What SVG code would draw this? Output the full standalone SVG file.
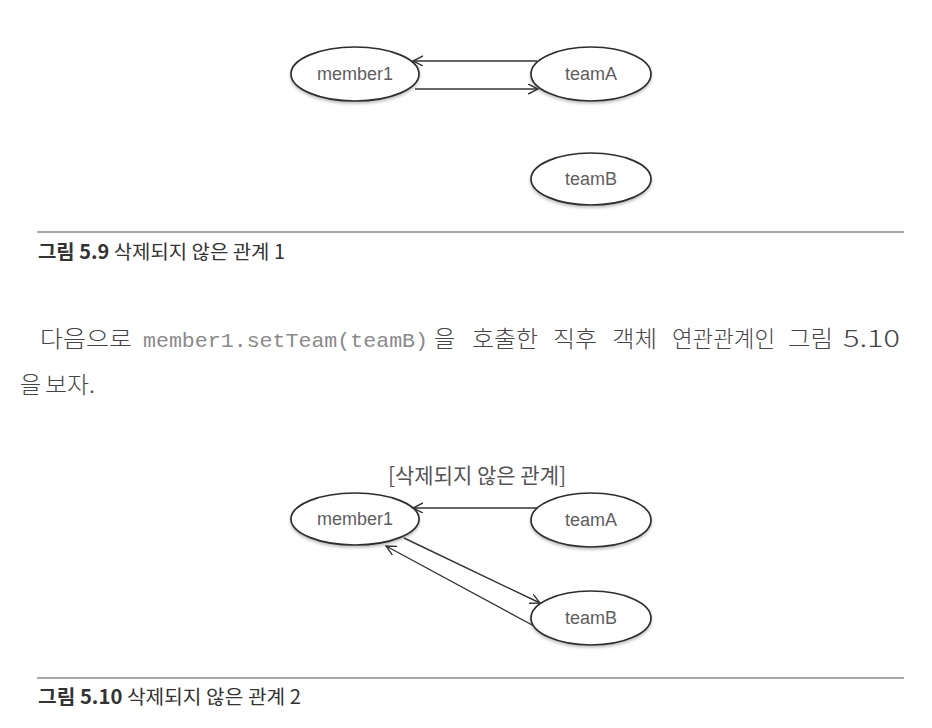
<svg xmlns="http://www.w3.org/2000/svg" width="932" height="728" viewBox="0 0 932 728">
  <style>
    .node { fill: #ffffff; stroke: #2e2e2e; stroke-width: 1.7; }
    .lbl { font-family: "Liberation Sans", Arial, sans-serif; font-size: 18px; fill: #5e5e5e; text-anchor: middle; }
    .conn { stroke: #333333; stroke-width: 1.4; fill: none; }
    .rule { stroke: #8a8a8a; stroke-width: 1.6; }
    .cap { font-family: "Noto Sans CJK KR", sans-serif; font-size: 19.5px; fill: #333333; }
    .capb { font-weight: bold; }
    .para { font-family: "Noto Sans CJK KR", sans-serif; font-size: 23px; font-weight: 300; fill: #444444; }
    .mono { font-family: "Liberation Mono", "Courier New", monospace; font-size: 21px; fill: #8a8a8a; }
    .title { font-family: "Noto Sans CJK KR", sans-serif; font-size: 21px; fill: #555555; text-anchor: middle; }
  </style>
  <defs>
    <marker id="arr" markerUnits="userSpaceOnUse" markerWidth="12" markerHeight="12" refX="10" refY="5" orient="auto">
      <path d="M0,0 L10,5 L0,10" fill="none" stroke="#333333" stroke-width="1.4"/>
    </marker>
    <filter id="sh" x="-20%" y="-20%" width="140%" height="150%">
      <feDropShadow dx="0" dy="2" stdDeviation="1.5" flood-color="#000000" flood-opacity="0.25"/>
    </filter>
  </defs>

  <!-- Figure 5.9 -->
  <g id="fig1-member1">
    <ellipse class="node" cx="355" cy="74" rx="64" ry="27" filter="url(#sh)"/>
    <text class="lbl" x="355" y="80">member1</text>
  </g>
  <g id="fig1-teamA">
    <ellipse class="node" cx="591" cy="74" rx="60" ry="27" filter="url(#sh)"/>
    <text class="lbl" x="591" y="80">teamA</text>
  </g>
  <g id="fig1-teamB">
    <ellipse class="node" cx="591" cy="179" rx="60" ry="26" filter="url(#sh)"/>
    <text class="lbl" x="591" y="185">teamB</text>
  </g>
  <g id="fig1-connectors">
    <path class="conn" d="M537,61 L413,61" marker-end="url(#arr)"/>
    <path class="conn" d="M415,89 L538,89" marker-end="url(#arr)"/>
  </g>

  <line class="rule" x1="37" y1="232" x2="904" y2="232"/>
  <text class="cap" x="38" y="259" textLength="247" lengthAdjust="spacingAndGlyphs"><tspan class="capb">그림 5.9</tspan> 삭제되지 않은 관계 1</text>

  <!-- Paragraph -->
  <text class="para" x="40" y="347" textLength="92" lengthAdjust="spacingAndGlyphs">다음으로</text>
  <text class="mono" x="143" y="347" textLength="285" lengthAdjust="spacingAndGlyphs">member1.setTeam(teamB)</text>
  <text class="para" x="434" y="347">을</text>
  <text class="para" x="472" y="347" textLength="66" lengthAdjust="spacingAndGlyphs">호출한</text>
  <text class="para" x="553" y="347" textLength="44" lengthAdjust="spacingAndGlyphs">직후</text>
  <text class="para" x="612" y="347" textLength="45" lengthAdjust="spacingAndGlyphs">객체</text>
  <text class="para" x="672" y="347" textLength="103" lengthAdjust="spacingAndGlyphs">연관관계인</text>
  <text class="para" x="788" y="347" textLength="45" lengthAdjust="spacingAndGlyphs">그림</text>
  <text class="para" x="843" y="347" textLength="57" lengthAdjust="spacingAndGlyphs">5.10</text>
  <text class="para" x="20" y="393">을</text>
  <text class="para" x="45" y="393" textLength="50" lengthAdjust="spacingAndGlyphs">보자.</text>

  <!-- Figure 5.10 -->
  <text class="title" x="477" y="483">[삭제되지 않은 관계]</text>
  <g id="fig2-member1">
    <ellipse class="node" cx="355" cy="519" rx="64" ry="26" filter="url(#sh)"/>
    <text class="lbl" x="355" y="525">member1</text>
  </g>
  <g id="fig2-teamA">
    <ellipse class="node" cx="591" cy="520" rx="60" ry="27" filter="url(#sh)"/>
    <text class="lbl" x="591" y="526">teamA</text>
  </g>
  <g id="fig2-teamB">
    <ellipse class="node" cx="591" cy="618" rx="60" ry="27" filter="url(#sh)"/>
    <text class="lbl" x="591" y="624">teamB</text>
  </g>
  <g id="fig2-connectors">
    <path class="conn" d="M537,508 L413,508" marker-end="url(#arr)"/>
    <path class="conn" d="M404,538 L540,603" marker-end="url(#arr)"/>
    <path class="conn" d="M534,626 L386,546" marker-end="url(#arr)"/>
  </g>

  <line class="rule" x1="37" y1="678" x2="904" y2="678"/>
  <text class="cap" x="38" y="704" textLength="263" lengthAdjust="spacingAndGlyphs"><tspan class="capb">그림 5.10</tspan> 삭제되지 않은 관계 2</text>
</svg>
